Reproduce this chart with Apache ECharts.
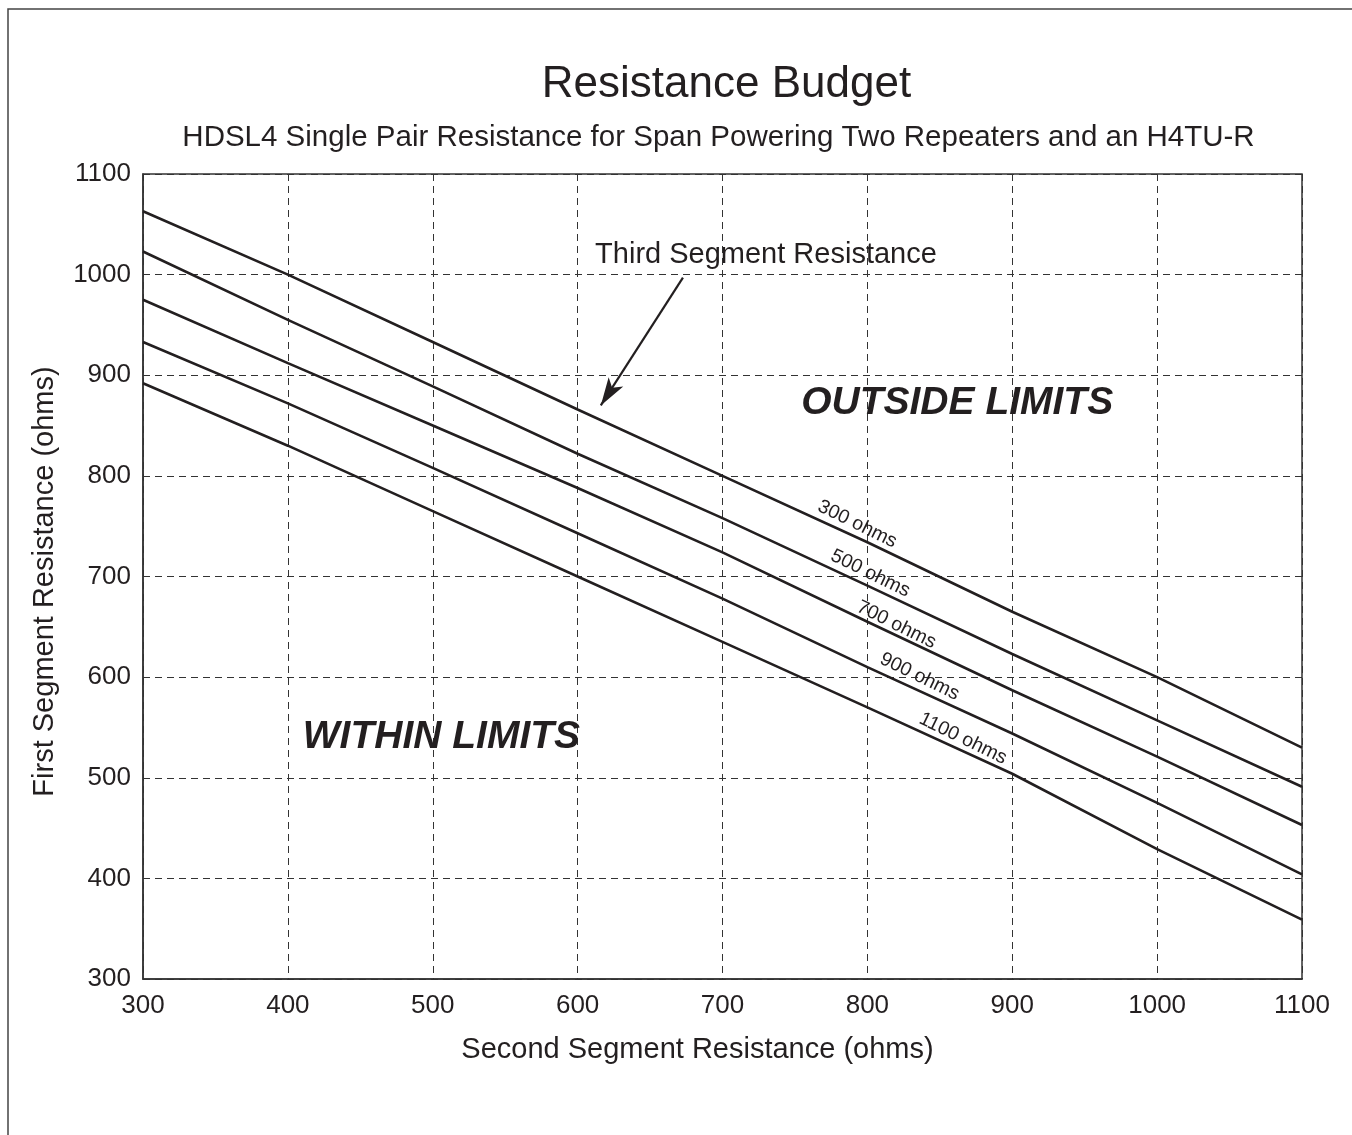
<!DOCTYPE html>
<html><head><meta charset="utf-8">
<script src="https://cdn.jsdelivr.net/npm/echarts@6/dist/echarts.min.js"></script>
<style>html,body{margin:0;padding:0;background:#fff}#c{width:1352px;height:1135px}</style>
</head><body><div id="c"></div>
<script>
// ---- data ----
const secondSegment = [300, 400, 500, 600, 700, 800, 900, 1000, 1100];
const thirdSegmentNames = ['300 ohms', '500 ohms', '700 ohms', '900 ohms', '1100 ohms'];
const first300 = [1063, 1000, 933, 866, 800, 734, 665, 600, 530];
const first500 = [1023, 955, 889, 822, 758, 691, 623, 557, 491];
const first700 = [975, 912, 850, 788, 724, 655, 587, 521, 453];
const first900 = [933, 872, 808, 743, 678, 610, 544, 475, 404];
const first1100 = [892, 830, 765, 700, 635, 570, 504, 429, 359];
const axisMin = 300, axisMax = 1100, axisStep = 100;

// ---- layout of annotations (data coordinates) ----
const lineLabelAt = [[793, 752], [802, 703], [820, 652], [836, 600.5], [866, 539]];
const arrowFrom = [672.7, 997], arrowTo = [616, 870];
const calloutAt = [730, 1020];
const outsideAt = [862, 872];
const withinAt = [506, 540];

const FONT = '"Liberation Sans", Arial, Helvetica, sans-serif';
const INK = '#231f20';
const allSeries = [first300, first500, first700, first900, first1100];

const chart = echarts.init(document.getElementById('c'), null, {renderer: 'canvas'});

const series = allSeries.map((vals, i) => ({
  type: 'line',
  name: thirdSegmentNames[i],
  data: secondSegment.map((x, k) => [x, vals[k]]),
  showSymbol: false,
  symbol: 'none',
  lineStyle: {color: INK, width: 2.6},
  itemStyle: {color: INK},
  silent: true,
  z: 3,
  markPoint: {
    symbol: 'circle', symbolSize: 0, silent: true,
    label: {show: true, position: 'inside', rotate: -26, color: INK,
            fontFamily: FONT, fontSize: 19.5, formatter: thirdSegmentNames[i]},
    data: [{coord: lineLabelAt[i], value: thirdSegmentNames[i]}]
  }
}));

// annotation series (no data of its own)
series.push({
  type: 'line', data: [], silent: true,
  markLine: {
    silent: true, symbol: ['none', 'arrow'], symbolSize: [13, 28],
    lineStyle: {color: INK, width: 2.2, type: 'solid'},
    label: {show: false},
    data: [[{coord: arrowFrom}, {coord: arrowTo}]]
  },
  markPoint: {
    symbol: 'circle', symbolSize: 0, silent: true,
    data: [
      {coord: calloutAt, label: {show: true, position: 'inside', formatter: 'Third Segment Resistance',
        color: INK, fontFamily: FONT, fontSize: 29}},
      {coord: outsideAt, label: {show: true, position: 'inside', formatter: 'OUTSIDE LIMITS',
        color: INK, fontFamily: FONT, fontSize: 39, fontWeight: 'bold', fontStyle: 'italic'}},
      {coord: withinAt, label: {show: true, position: 'inside', formatter: 'WITHIN LIMITS',
        color: INK, fontFamily: FONT, fontSize: 39, fontWeight: 'bold', fontStyle: 'italic'}}
    ]
  }
});

const gridLeft = 143, gridTop = 174, gridRight = 50, gridBottom = 156;
const plotCenterX = gridLeft + (1352 - gridLeft - gridRight) / 2;
const plain = v => String(v);

chart.setOption({
  animation: false,
  backgroundColor: '#fff',
  textStyle: {fontFamily: FONT},
  grid: {left: gridLeft, top: gridTop, right: gridRight, bottom: gridBottom,
         show: true, borderColor: '#333', borderWidth: 1.5, containLabel: false},
  xAxis: {
    type: 'value', min: axisMin, max: axisMax, interval: axisStep,
    name: 'Second Segment Resistance (ohms)', nameLocation: 'middle', nameGap: 56,
    nameTextStyle: {color: INK, fontSize: 29, fontFamily: FONT, padding: [0, 50, 0, 0]},
    axisLine: {show: true, lineStyle: {color: '#333', width: 1.5}},
    axisTick: {show: false},
    axisLabel: {color: INK, fontSize: 26, fontFamily: FONT, margin: 14, formatter: plain},
    splitLine: {show: true, lineStyle: {color: '#333', width: 1, type: [7, 5]}}
  },
  yAxis: {
    type: 'value', min: axisMin, max: axisMax, interval: axisStep,
    name: 'First Segment Resistance (ohms)', nameLocation: 'middle', nameGap: 84,
    nameTextStyle: {color: INK, fontSize: 29, fontFamily: FONT, padding: [0, 10, 0, 0]},
    axisLine: {show: true, lineStyle: {color: '#333', width: 1.5}},
    axisTick: {show: false},
    axisLabel: {color: INK, fontSize: 26, fontFamily: FONT, margin: 12, formatter: plain},
    splitLine: {show: true, lineStyle: {color: '#333', width: 1, type: [7, 5]}}
  },
  graphic: [
    {type: 'rect', shape: {x: 8, y: 9, width: 1400, height: 1200}, silent: true,
     style: {fill: 'none', stroke: '#444', lineWidth: 1.5}},
    {type: 'text', x: plotCenterX + 4, y: 85, silent: true,
     style: {text: 'Resistance Budget', fill: INK, font: '44px ' + FONT,
             textAlign: 'center', textVerticalAlign: 'middle'}},
    {type: 'text', x: plotCenterX - 4, y: 138, silent: true,
     style: {text: 'HDSL4 Single Pair Resistance for Span Powering Two Repeaters and an H4TU-R',
             fill: INK, font: '29.5px ' + FONT, textAlign: 'center', textVerticalAlign: 'middle'}}
  ],
  series: series
});
</script></body></html>
